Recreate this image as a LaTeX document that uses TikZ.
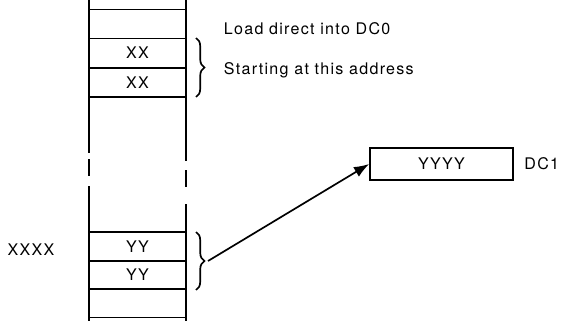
\documentclass[tikz,border=0pt]{standalone}
\usepackage{fontspec}
\setsansfont[LetterSpace=8]{TeX Gyre Heros}
\usetikzlibrary{arrows.meta,positioning,decorations.pathreplacing}

\begin{document}
\begin{tikzpicture}[
    x=0.025cm, y=-0.025cm,
    font=\sffamily\fontsize{11.4}{13}\selectfont,
    >=Latex,
    cell/.style={
        draw,
        minimum width=97*0.025cm,
        minimum height=29*0.025cm,
        inner sep=0pt,
        line width=1.2pt
    },
    wall/.style={line width=1.6pt},
    regbox/.style={
        draw,
        minimum width=143*0.025cm,
        minimum height=32*0.025cm,
        inner sep=0pt,
        line width=1.2pt
    },
    curly/.style={
        decorate,
        decoration={brace,amplitude=6pt},
        line width=1.2pt
    }
]
\useasboundingbox (0,0) rectangle (569,321);

% Memory cells at the top
\node[cell] (t0) at (137.5,24) {};
\node[cell] (t1) at (137.5,53) {XX};
\node[cell] (t2) at (137.5,82.5) {XX};

% Memory cells at the bottom
\node[cell] (b1) at (137.5,246.5) {YY};
\node[cell] (b2) at (137.5,275) {YY};
\node[cell] (b3) at (137.5,303) {};

% Column walls, broken in the middle
\draw[wall] (89,0) -- (89,153);
\draw[wall] (89,159) -- (89,176);
\draw[wall] (89,186) -- (89,321);
\draw[wall] (186,0) -- (186,161);
\draw[wall] (186,170) -- (186,187);
\draw[wall] (186,204) -- (186,321);

% Labels
\node[anchor=west] (load) at (219,29) {Load direct into DC0};
\node[anchor=west] (start) at (219,70) {Starting at this address};
\node (addr) at (31,250) {XXXX};

% Braces
\draw[curly] (196,38) -- (196,97);
\draw[curly] (196,232) -- (196,290);
\coordinate (btip) at (208,261);

% Register DC1
\node[regbox] (dc1) at (441.5,164) {YYYY};
\node[right=4pt of dc1] (dc1lbl) {DC1};

\draw[line width=1.2pt,-{Latex[length=3.8mm,width=2.8mm]}] (btip) -- (dc1.west);

\end{tikzpicture}
\end{document}
